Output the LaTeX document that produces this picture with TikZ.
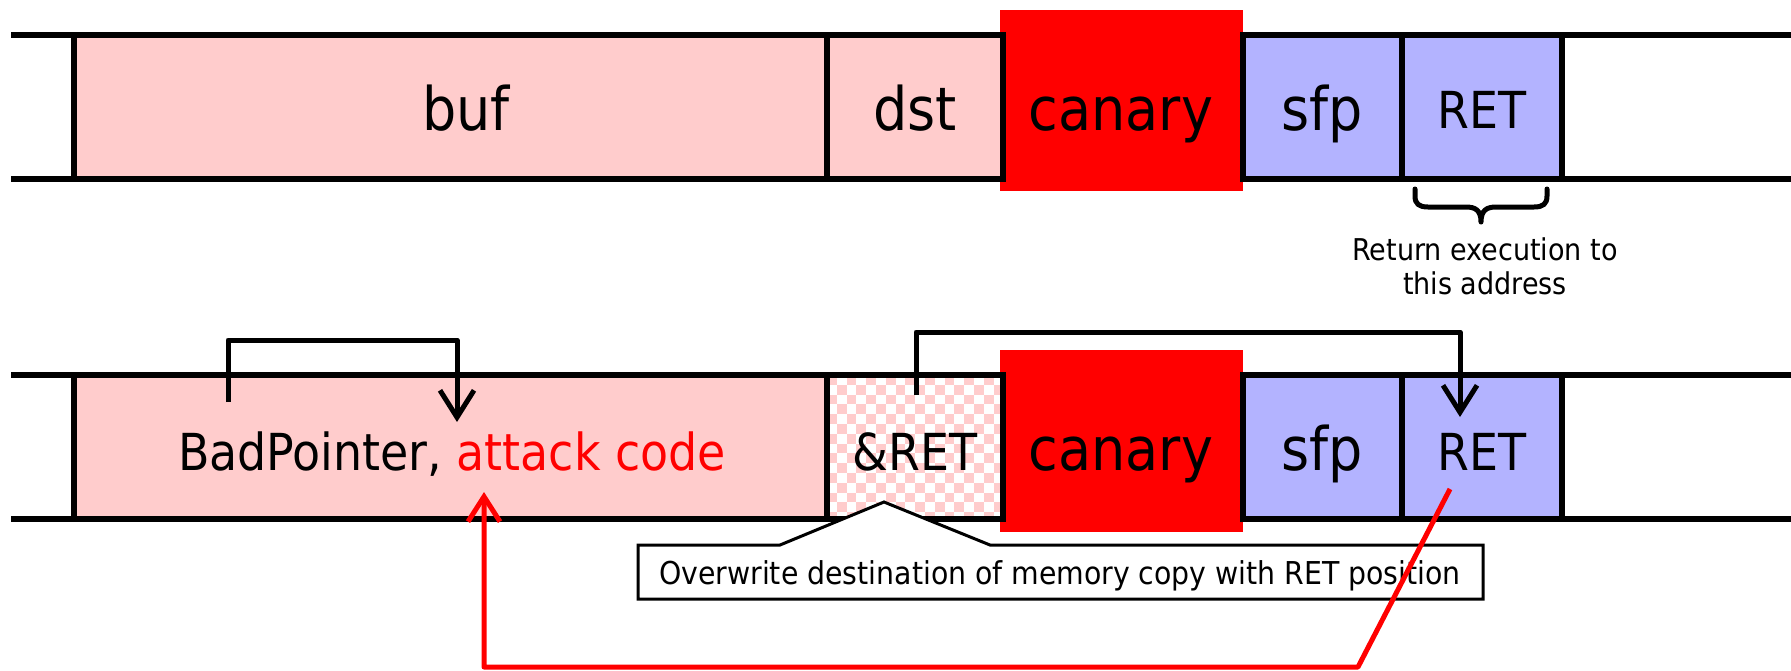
\documentclass[tikz,border=0pt]{standalone}
\usepackage{fontspec}
\setmainfont{DejaVu Sans Condensed}
\usetikzlibrary{arrows.meta}
\definecolor{bufpink}{HTML}{FFCCCC}
\definecolor{framelav}{HTML}{B3B3FF}
\definecolor{canaryred}{HTML}{FF0000}

\begin{document}
\begin{tikzpicture}[x=1pt,y=-1pt,
  cell/.style={draw=black, line width=6pt, minimum height=144pt, inner sep=0pt, outer sep=0pt},
  canarybox/.style={fill=canaryred, minimum width=243pt, minimum height=181pt, inner sep=0pt, outer sep=0pt},
  biglbl/.style={font=\fontsize{60}{72}\selectfont, anchor=base, inner sep=0pt},
  midlbl/.style={font=\fontsize{51}{60}\selectfont, anchor=base, inner sep=0pt},
  smalllbl/.style={font=\fontsize{30}{34}\selectfont, anchor=base, inner sep=0pt},
  notelbl/.style={font=\fontsize{31.5}{36}\selectfont, anchor=base, inner sep=0pt},
  rowline/.style={line width=6pt},
  ptr/.style={line width=5pt, line join=round, -{Straight Barb[length=27pt,width=34pt]}},
  hijack/.style={line width=5pt, draw=canaryred, line join=round, -{Straight Barb[length=25pt,width=32pt]}}
]
\useasboundingbox (0,0) rectangle (1791,670);

% ---------- stack frame before the overflow ----------
\draw[rowline] (11,35) -- (1791,35);
\draw[rowline] (11,179) -- (1791,179);
\node[canarybox] (canA) at (1121.5,100.5) {};
\node[cell, fill=bufpink, minimum width=753pt] (bufA) at (450.5,107) {};
\node[cell, fill=bufpink, minimum width=176pt] (dstA) at (915,107) {};
\node[cell, fill=framelav, minimum width=159pt] (sfpA) at (1322.5,107) {};
\node[cell, fill=framelav, minimum width=160pt] (retA) at (1482,107) {};

\node[biglbl] (bufAl) at (466,130) {buf};
\node[biglbl] (dstAl) at (915,130) {dst};
\node[biglbl] (canAl) at (1121,130) {canary};
\node[biglbl] (sfpAl) at (1322,130) {sfp};
\node[midlbl] (retAl) at (1482,128) {RET};

% brace under the return address
\draw[line width=5pt, line join=round, line cap=round]
  (1415,189) -- (1415,196) .. controls (1415,204) and (1419,207) .. (1428,207)
  -- (1466,207) .. controls (1475,207) and (1481,210) .. (1481,222)
  .. controls (1481,210) and (1487,207) .. (1496,207)
  -- (1534,207) .. controls (1543,207) and (1547,204) .. (1547,196) -- (1547,189);
\node[smalllbl] (retnote1) at (1485,260) {Return execution to};
\node[smalllbl] (retnote2) at (1485,294) {this address};

% ---------- stack frame after the overflow ----------
\draw[rowline] (11,375) -- (1791,375);
\draw[rowline] (11,519) -- (1791,519);
\node[canarybox, minimum height=182pt] (canB) at (1121.5,441) {};
\node[cell, fill=bufpink, minimum width=753pt] (bufB) at (450.5,447) {};
\begin{scope}
  \clip (827,375) rectangle (1003,519);
  \fill[white] (827,375) rectangle (1003,519);
  \foreach \i in {0,...,18}{\foreach \j in {0,...,15}{
    \ifodd\numexpr\i+\j\relax\else
      \fill[bufpink] ({827+9.8*\i},{375+9.8*\j}) rectangle ++(9.8,9.8);
    \fi}}
\end{scope}
\node[cell, minimum width=176pt] (dstB) at (915,447) {};
\node[cell, fill=framelav, minimum width=159pt] (sfpB) at (1322.5,447) {};
\node[cell, fill=framelav, minimum width=160pt] (retB) at (1482,447) {};

\node[midlbl] (bufBl) at (452,470) {BadPointer, \textcolor{canaryred}{attack code}};
\node[midlbl] (dstBl) at (915,470) {\&RET};
\node[biglbl] (canBl) at (1121,470) {canary};
\node[biglbl] (sfpBl) at (1322,470) {sfp};
\node[midlbl] (retBl) at (1482,470) {RET};

% pointer chains
\coordinate (bpTail) at (228,402);
\coordinate (bpHead) at (457,422);
\draw[ptr] (bpTail) -- ++(0,-62) -| (bpHead);
\coordinate (retTail) at (916,395);
\coordinate (retHead) at (1460,417);
\draw[ptr] (retTail) -- ++(0,-63) -| (retHead);

% callout for the overwritten destination
\draw[line width=3pt, fill=white] (638,545) -- (780,545) -- (884,502) -- (990,545)
  -- (1483,545) -- (1483,599) -- (638,599) -- cycle;
\node[notelbl] (note) at (1060,584) {Overwrite destination of memory copy with RET position};

% hijacked return
\coordinate (hijackFrom) at (1450,489);
\coordinate (codeEntry) at (484,492);
\draw[hijack] (hijackFrom) -- (1358,667) -| (codeEntry);
\end{tikzpicture}
\end{document}
